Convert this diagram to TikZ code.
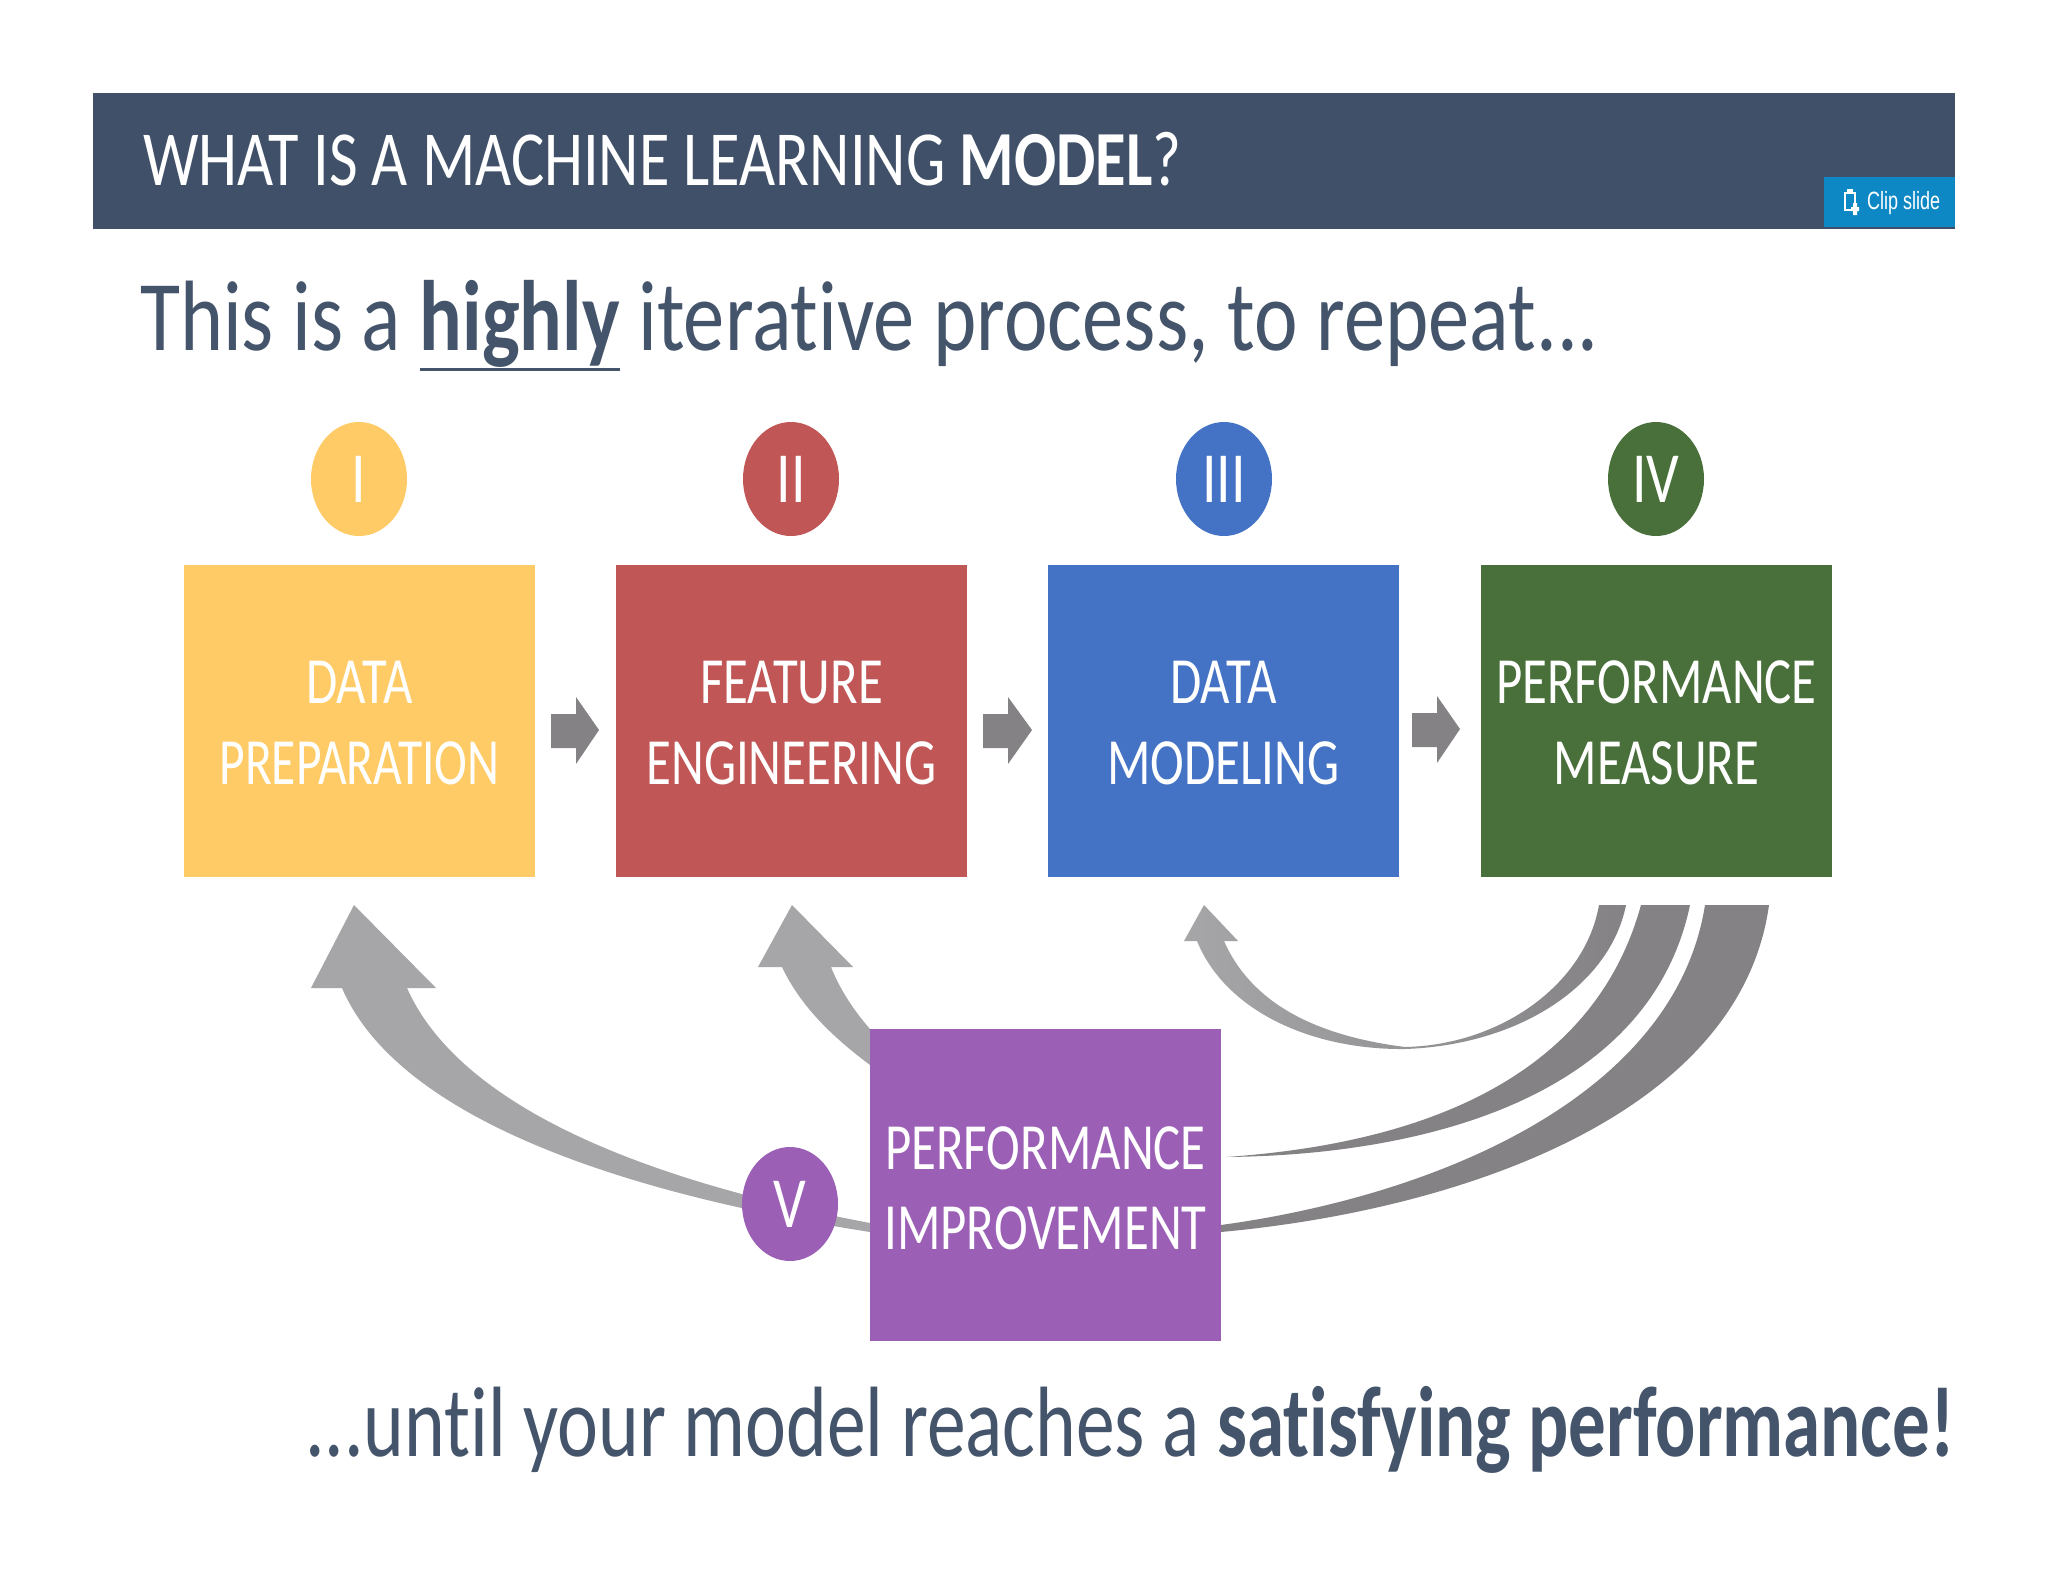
\documentclass[tikz,border=0pt]{standalone}
\usepackage{fontspec}
\setmainfont{Carlito}[Ligatures={NoCommon,NoRare,NoContextual}]
\newfontfamily\clipfont{Liberation Sans}
\definecolor{headc}{HTML}{3F5068}
\definecolor{clipc}{HTML}{0E88C4}
\definecolor{textc}{HTML}{44546A}
\definecolor{yel}{HTML}{FFCB66}
\definecolor{redb}{HTML}{C05656}
\definecolor{blu}{HTML}{4472C4}
\definecolor{grn}{HTML}{49703A}
\definecolor{pur}{HTML}{9B60B6}
\definecolor{lgray}{HTML}{A6A6A8}
\definecolor{dgray}{HTML}{848284}
\newcommand{\sq}[2]{\scalebox{#1}[1]{#2}}
\newsavebox{\ulbox}
\newcommand{\thickul}[1]{\sbox{\ulbox}{#1}\usebox{\ulbox}\hspace{-\wd\ulbox}\rule[-21pt]{\wd\ulbox}{3.5pt}}
\tikzset{
  x=1pt,y=-1pt,
  boxb/.style={minimum width=351pt,minimum height=312pt,inner sep=0pt,anchor=north west,draw=none},
  boxt/.style={text=white,anchor=base,inner sep=0pt,font=\fontsize{66}{66}\selectfont},
  circ/.style={ellipse,minimum width=96pt,minimum height=114pt,inner sep=0pt,text=white,font=\fontsize{72}{72}\selectfont},
  bigt/.style={text=textc,anchor=base west,inner sep=0pt,font=\fontsize{100}{100}\selectfont},
}
\usetikzlibrary{shapes.geometric}
\begin{document}
\begin{tikzpicture}
\useasboundingbox (0,0) rectangle (2048,1582);
\fill[white] (0,0) rectangle (2048,1582);
% header
\node[fill=headc,minimum width=1862pt,minimum height=136pt,inner sep=0pt,anchor=north west] (head) at (93,93) {};
\node[fill=clipc,minimum width=131pt,minimum height=50pt,inner sep=0pt,anchor=north west] (clip) at (1824,177) {};
\node[text=white,anchor=base west,inner sep=0pt,font=\fontsize{78}{78}\selectfont] (title) at (143,185)
  {\sq{0.80}{WHAT IS A MACHINE LEARNING \textbf{MODEL}?}};
\node[text=white,anchor=base west,inner sep=0pt,font=\clipfont\fontsize{25}{25}\selectfont] (cliptxt) at (1867,209) {\sq{0.72}{Clip slide}};
\draw[white,line width=2.6pt] (1845,193) rectangle (1855,210);
\fill[white] (1847,189) rectangle (1853,194);
\fill[white] (1851,207) rectangle (1859,211) (1853,203) rectangle (1857,215);
% headline
\node[bigt] (line1) at (140,350) {\sq{0.82}{This is a\ }\thickul{\sq{0.795}{\textbf{highly}}}\sq{0.825}{\ iterative process, to repeat...}};
\node[bigt] (line2) at (305,1456) {\sq{0.775}{...until your model reaches a\ }\sq{0.75}{\textbf{satisfying performance!}}};
% curved feedback arrows
\fill[lgray] (354,905) -- (436,988) -- (407,988)
  .. controls (450,1085) and (590,1170) .. (870,1223)
  -- (870,1232)
  .. controls (570,1185) and (390,1100) .. (342,988)
  -- (311,988) -- cycle;
\fill[lgray] (792,905) -- (853,967) -- (831,967)
  .. controls (840,990) and (855,1012) .. (870,1029)
  -- (870,1065)
  .. controls (830,1035) and (800,1005) .. (782,967)
  -- (758,967) -- cycle;
\shade[left color=lgray,right color=dgray] (1204,905) -- (1238,941) -- (1224,941)
  .. controls (1250,1000) and (1310,1035) .. (1405,1047)
  .. controls (1500,1045) and (1585,985) .. (1599,905)
  -- (1626,905)
  .. controls (1610,985) and (1520,1045) .. (1405,1049)
  .. controls (1310,1050) and (1225,1010) .. (1197,941)
  -- (1184,941) -- cycle;
\fill[dgray] (1641,905) -- (1690,905)
  .. controls (1650,1095) and (1430,1155) .. (1226,1157)
  .. controls (1400,1145) and (1590,1090) .. (1641,905) -- cycle;
\fill[dgray] (1705,905) -- (1769,905)
  .. controls (1740,1115) and (1460,1210) .. (1221,1232)
  -- (1221,1225)
  .. controls (1440,1195) and (1675,1095) .. (1705,905) -- cycle;
% process boxes
\node[boxb,fill=yel] (b1) at (184,565) {};
\node[boxb,fill=redb] (b2) at (616,565) {};
\node[boxb,fill=blu] (b3) at (1048,565) {};
\node[boxb,fill=grn] (b4) at (1481,565) {};
\node[boxb,fill=pur] (b5) at (870,1029) {};
\node[boxt] (t1a) at (359.5,703) {\sq{.77}{DATA}};
\node[boxt] (t1b) at (359.5,784) {\sq{.75}{PREPARATION}};
\node[boxt] (t2a) at (791.5,703) {\sq{.77}{FEATURE}};
\node[boxt] (t2b) at (791.5,784) {\sq{.77}{ENGINEERING}};
\node[boxt] (t3a) at (1223.5,703) {\sq{.77}{DATA}};
\node[boxt] (t3b) at (1223.5,784) {\sq{.77}{MODELING}};
\node[boxt] (t4a) at (1656.5,703) {\sq{.77}{PERFORMANCE}};
\node[boxt] (t4b) at (1656.5,784) {\sq{.77}{MEASURE}};
\node[boxt] (t5a) at (1045.5,1169) {\sq{.77}{PERFORMANCE}};
\node[boxt] (t5b) at (1045.5,1249) {\sq{.77}{IMPROVEMENT}};
% circles
\node[circ,fill=yel] (c1) at (359,479) {\sq{.8}{I}};
\node[circ,fill=redb] (c2) at (791,479) {\sq{.8}{II}};
\node[circ,fill=blu] (c3) at (1224,479) {\sq{.8}{III}};
\node[circ,fill=grn] (c4) at (1656,479) {\sq{.8}{IV}};
\node[circ,fill=pur] (c5) at (790,1204) {\sq{.8}{V}};
% small arrows
\fill[dgray] (551,714) -- (576,714) -- (576,697) -- (599,730) -- (576,764) -- (576,748) -- (551,748) -- cycle;
\fill[dgray] (983,714) -- (1008,714) -- (1008,697) -- (1032,730) -- (1008,764) -- (1008,748) -- (983,748) -- cycle;
\fill[dgray] (1412,713) -- (1437,713) -- (1437,696) -- (1460,729) -- (1437,763) -- (1437,747) -- (1412,747) -- cycle;
\end{tikzpicture}
\end{document}
